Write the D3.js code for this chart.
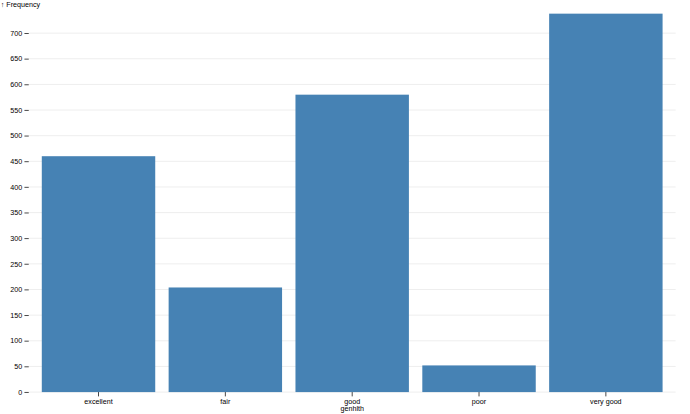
<!DOCTYPE html>
<html>
<head>
<meta charset="utf-8">
<script src="https://cdn.jsdelivr.net/npm/d3@7"></script>
<style>
  html, body { margin: 0; padding: 0; background: #fff; }
  svg { display: block; font-family: "Liberation Sans", Arial, Helvetica, sans-serif; font-size: 10px; }
</style>
</head>
<body>
<svg id="chart" width="690" height="414" viewBox="0 0 960 576" preserveAspectRatio="none"></svg>
<script>
const categories = ["excellent", "fair", "good", "poor", "very good"];
const frequencies = [460, 204, 580, 52, 738];
const yTicks = d3.range(0, 701, 50);
const xLabel = "genhlth";
const yLabel = "↑ Frequency";

// drawn in a 960x576 coordinate system, scaled down to 690x414
const width = 960, height = 576;
const marginLeft = 40, marginRight = 20, marginTop = 19, marginBottom = 30.5;

const svg = d3.select("#chart");

const x = d3.scaleBand()
  .domain(categories)
  .range([marginLeft, width - marginRight])
  .paddingInner(0.1)
  .paddingOuter(0.1)
  .align(0.5);

const y = d3.scaleLinear()
  .domain([0, d3.max(frequencies)])
  .range([height - marginBottom, marginTop]);

// grid
svg.append("g")
  .attr("stroke", "currentColor")
  .attr("stroke-opacity", 0.1)
  .selectAll("line")
  .data(yTicks)
  .join("line")
  .attr("x1", marginLeft)
  .attr("x2", width - marginRight)
  .attr("y1", d => y(d))
  .attr("y2", d => y(d));

// y axis
svg.append("g")
  .attr("transform", `translate(${marginLeft},0)`)
  .call(d3.axisLeft(y).tickValues(yTicks).tickSize(6).tickPadding(3))
  .call(g => g.select(".domain").remove())
  .call(g => g.selectAll("text").attr("font-size", 10).attr("font-family", null));

svg.append("text")
  .attr("x", 1)
  .attr("y", 6)
  .attr("dy", "0.32em")
  .attr("fill", "currentColor")
  .text(yLabel);

// bars
svg.append("g")
  .attr("fill", "steelblue")
  .selectAll("rect")
  .data(categories.map((c, i) => ({c, v: frequencies[i]})))
  .join("rect")
  .attr("x", d => x(d.c) + 0.5)
  .attr("width", x.bandwidth() - 1)
  .attr("y", d => y(d.v))
  .attr("height", d => y(0) - y(d.v));

// x axis
svg.append("g")
  .attr("transform", `translate(0,${height - marginBottom})`)
  .call(d3.axisBottom(x).tickSize(6).tickPadding(3))
  .call(g => g.select(".domain").remove())
  .call(g => g.selectAll("text").attr("font-size", 10).attr("font-family", null));

svg.append("text")
  .attr("x", (marginLeft + width - marginRight) / 2)
  .attr("y", 569)
  .attr("dy", "0.32em")
  .attr("text-anchor", "middle")
  .attr("fill", "currentColor")
  .text(xLabel);
</script>
</body>
</html>
